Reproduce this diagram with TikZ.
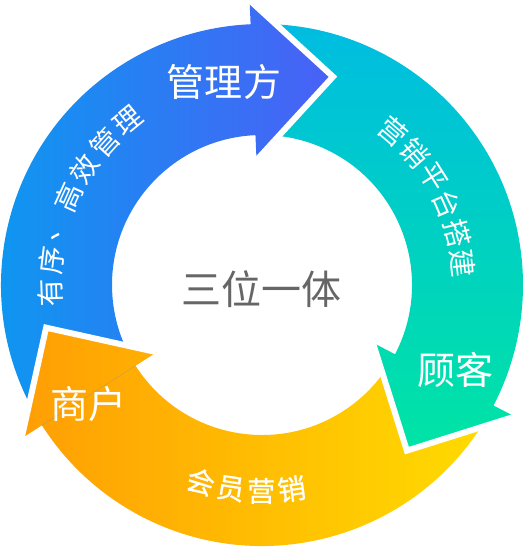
\documentclass[tikz,border=0pt]{standalone}
\usepackage{fontspec}
\newfontfamily\cjk{Noto Sans CJK SC}
\newfontfamily\cjkm[FakeBold=0.8]{Noto Sans CJK SC}
\usetikzlibrary{calc}

\definecolor{blueA}{RGB}{8,156,240}
\definecolor{blueB}{RGB}{74,96,246}
\definecolor{tealA}{RGB}{0,188,226}
\definecolor{tealB}{RGB}{0,228,164}
\definecolor{orangeA}{RGB}{255,158,4}
\definecolor{orangeB}{RGB}{255,220,0}
\definecolor{txtgray}{RGB}{102,102,102}

\tikzset{
  bigtxt/.style={text=white, inner sep=0pt, font=\cjk\fontsize{38}{40}\selectfont},
  arctxt/.style={text=white, inner sep=0pt, font=\cjk\fontsize{28}{30}\selectfont},
  gapline/.style={draw=white, line width=6pt, line join=miter},
}

\begin{document}
\begin{tikzpicture}[x=1pt, y=1pt]
    \useasboundingbox (-262,-263) rectangle (264,285);

    % Pfeilspitzen
    \coordinate (bw1) at (92.5:285);
    \coordinate (bt) at (71.18:220.06);
    \coordinate (bw2) at (92.5:125);
    \coordinate (tw1) at (-27.5:285);
    \coordinate (tt) at (-48.82:220.06);
    \coordinate (tw2) at (-27.5:125);
    \coordinate (ow1) at (212.5:285);
    \coordinate (ot) at (191.18:220.06);
    \coordinate (ow2) at (212.5:125);

    % Pfeil orange
    \shade[left color=orangeA, right color=orangeB]
        (-27.5:261) arc[start angle=-27.5, end angle=-147.5, radius=261]
        -- (ow1) -- (ot) -- (ow2) -- (212.5:150)
        arc[start angle=212.5, end angle=332.5, radius=150] -- cycle;

    % Pfeil tuerkis
    \shade[top color=tealA, bottom color=tealB]
        (92.5:261) arc[start angle=92.5, end angle=-27.5, radius=261]
        -- (tw1) -- (tt) -- (tw2) -- (-27.5:150)
        arc[start angle=-27.5, end angle=92.5, radius=150] -- cycle;

    % Pfeil blau
    \shade[left color=blueA, right color=blueB]
        (212.5:261) arc[start angle=212.5, end angle=92.5, radius=261]
        -- (bw1) -- (bt) -- (bw2) -- (92.5:150)
        arc[start angle=92.5, end angle=212.5, radius=150] -- cycle;

    % Spitze orange nochmal oben drauf
    \begin{scope}
        \clip (ow1) -- (ot) -- (ow2) -- cycle;
        \shade[left color=orangeA, right color=orangeB]
            (-27.5:261) arc[start angle=-27.5, end angle=-147.5, radius=261]
            -- (ow1) -- (ot) -- (ow2) -- (212.5:150)
            arc[start angle=212.5, end angle=332.5, radius=150] -- cycle;
    \end{scope}

    % weisse Fugen
    \draw[gapline] (bw1) -- (bt) -- (bw2);
    \draw[gapline] (tw1) -- (tt) -- (tw2);
    \draw[gapline] (ow1) -- (ot) -- (ow2);

    % Labels
    \node[bigtxt] (guanli) at (-38,203) {管理方};
    \node[bigtxt] (guke) at (193,-85) {顾客};
    \node[bigtxt] (shanghu) at (-173,-119) {商户};
    \node[text=txtgray, font=\cjk\fontsize{40}{42}\selectfont] (mitte) at (-1,-4) {三位一体};

    % Text entlang der Ringe
    \foreach \ch [count=\i] in {有,序,、,高,效,管,理}
        \node[arctxt, rotate=92-8.8*\i+8.8] (a\i) at ({182-8.8*(\i-1)}:212) {\ch};
    \foreach \ch [count=\i] in {营,销,平,台,搭,建}
        \node[arctxt, rotate=-40.6-8.64*\i+8.64] (b\i) at ({49.4-8.64*(\i-1)}:202) {\ch};
    \foreach \ch [count=\i] in {会,员,营,销}
        \node[arctxt, font=\cjkm\fontsize{28}{30}\selectfont, rotate=-17.3+8.53*\i-8.53] (c\i) at ({-107.3+8.53*(\i-1)}:206) {\ch};
\end{tikzpicture}
\end{document}
